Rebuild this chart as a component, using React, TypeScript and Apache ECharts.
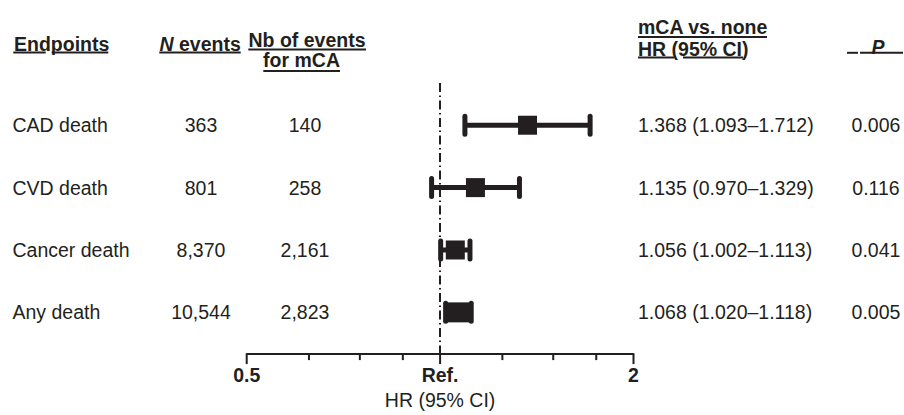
import React, { useEffect, useRef } from 'react';
import * as echarts from 'echarts';

const endpoints = ['CAD death', 'CVD death', 'Cancer death', 'Any death'];
const nEvents = ['363', '801', '8,370', '10,544'];
const mcaEvents = ['140', '258', '2,161', '2,823'];
const hr = [1.368, 1.135, 1.056, 1.068];
const ciLow = [1.093, 0.97, 1.002, 1.02];
const ciHigh = [1.712, 1.329, 1.113, 1.118];
const pValues = ['0.006', '0.116', '0.041', '0.005'];
const majorTicks = [0.5, 1, 2];
const minorTicks = [0.625, 0.75, 0.875, 1.25, 1.5, 1.75];
const tickLabels: [number, string][] = [
  [0.5, '0.5'],
  [1, 'Ref.'],
  [2, '2'],
];

const C = '#231f20';
const FF = '"Liberation Sans", Arial, Helvetica, sans-serif';
const FS = 19.5;
const Y_MIN = 0.323;
const Y_MAX = 4.669;

function txt(text: string, x: number, y: number, align: string, extra: any = {}) {
  return {
    type: 'text',
    x,
    y,
    silent: true,
    style: {
      text,
      fill: C,
      fontSize: FS,
      fontFamily: FF,
      fontWeight: 'bold',
      align,
      textAlign: align,
      verticalAlign: 'middle',
      textVerticalAlign: 'middle',
      ...extra,
    },
  };
}

function uline(x1: number, x2: number, y: number) {
  return {
    type: 'line',
    silent: true,
    shape: { x1, y1: y, x2, y2: y },
    style: { stroke: C, lineWidth: 2 },
  };
}

export default function App() {
  const ref = useRef<HTMLDivElement>(null);

  useEffect(() => {
    if (!ref.current) return;
    const chart = echarts.init(ref.current, null, { renderer: 'svg' });

    const rowText = (params: any, api: any) => {
      const i = params.dataIndex;
      const y = api.coord([1, i + 1])[1];
      const base = {
        fill: C,
        fontSize: FS,
        fontFamily: FF,
        verticalAlign: 'middle',
        textVerticalAlign: 'middle',
      };
      const t = (text: string, x: number, align: string) => ({
        type: 'text',
        x,
        y,
        style: { ...base, text, align, textAlign: align },
      });
      return {
        type: 'group',
        children: [
          t(endpoints[i], 12.5, 'left'),
          t(nEvents[i], 201, 'center'),
          t(mcaEvents[i], 305, 'center'),
          t(
            `${hr[i].toFixed(3)} (${ciLow[i].toFixed(3)}\u2013${ciHigh[i].toFixed(3)})`,
            638,
            'left'
          ),
          t(pValues[i], 876, 'center'),
        ],
      };
    };

    const option: any = {
      animation: false,
      backgroundColor: '#ffffff',
      grid: { left: 246.7, right: 270.5, top: 83, bottom: 56, containLabel: false },
      xAxis: {
        type: 'log',
        logBase: 2,
        min: 0.5,
        max: 2,
        splitNumber: 2,
        axisLine: { show: true, lineStyle: { color: C, width: 2 } },
        axisTick: { show: false },
        splitLine: { show: false },
        minorTick: { show: false },
        axisLabel: {
          show: true,
          showMinLabel: true,
          showMaxLabel: true,
          margin: 11,
          color: C,
          fontSize: FS,
          fontWeight: 'bold',
          fontFamily: FF,
          formatter: (v: number) => {
            for (const [tv, lab] of tickLabels) {
              if (Math.abs(v - tv) < 1e-6) return lab;
            }
            return '';
          },
        },
        name: 'HR (95% CI)',
        nameLocation: 'middle',
        nameGap: 35,
        nameTextStyle: { color: C, fontSize: FS, fontFamily: FF },
      },
      yAxis: {
        type: 'value',
        inverse: true,
        min: Y_MIN,
        max: Y_MAX,
        show: false,
        splitLine: { show: false },
      },
      graphic: [
        txt('Endpoints', 14, 43.8, 'left'),
        uline(13.3, 45.7, 52.5),
        uline(51.7, 108.3, 52.5),
        txt('{i|N} events', 159.5, 43.8, 'left', {
          rich: {
            i: {
              fontStyle: 'italic',
              fontWeight: 'bold',
              fontSize: FS,
              fontFamily: FF,
              fill: C,
              color: C,
            },
          },
        }),
        uline(159.3, 240.7, 52.5),
        txt('Nb of events', 307, 39.6, 'center'),
        uline(248.3, 366, 49.5),
        txt('for mCA', 301.5, 59.6, 'center'),
        uline(263.3, 340, 71),
        txt('mCA vs. none', 638, 27, 'left'),
        uline(638, 767, 37),
        txt('HR (95% CI)', 638, 48.6, 'left'),
        uline(638, 674, 57.5),
        uline(683, 743, 57.5),
        txt('P', 878, 46.8, 'center', { fontStyle: 'italic' }),
        uline(847, 858, 52.8),
        uline(860, 903, 52.8),
      ],
      series: [
        {
          type: 'custom',
          name: 'ticks',
          silent: true,
          data: [...majorTicks, ...minorTicks].map((v) => [v, Y_MAX]),
          encode: { x: 0, y: 1 },
          renderItem: (params: any, api: any) => {
            const v = api.value(0);
            const p = api.coord([v, api.value(1)]);
            const isMajor = majorTicks.some((m) => Math.abs(m - v) < 1e-9);
            const len = isMajor ? 10 : 6;
            return {
              type: 'line',
              shape: { x1: p[0], y1: p[1], x2: p[0], y2: p[1] + len },
              style: { stroke: C, lineWidth: 2 },
            };
          },
        },
        {
          type: 'custom',
          name: 'rows',
          silent: true,
          data: endpoints.map((_, i) => [1, i + 1]),
          encode: { x: 0, y: 1 },
          renderItem: rowText,
        },
        {
          type: 'custom',
          name: 'ci',
          silent: true,
          data: hr.map((_, i) => [ciLow[i], ciHigh[i], i + 1]),
          encode: { x: [0, 1], y: 2 },
          renderItem: (params: any, api: any) => {
            const pLo = api.coord([api.value(0), api.value(2)]);
            const pHi = api.coord([api.value(1), api.value(2)]);
            const capW = 5;
            const capH = 23;
            return {
              type: 'group',
              children: [
                {
                  type: 'line',
                  shape: { x1: pLo[0], y1: pLo[1], x2: pHi[0], y2: pHi[1] },
                  style: { stroke: C, lineWidth: 5 },
                },
                {
                  type: 'rect',
                  shape: { x: pLo[0] - capW / 2, y: pLo[1] - capH / 2, width: capW, height: capH, r: capW / 2 },
                  style: { fill: C },
                },
                {
                  type: 'rect',
                  shape: { x: pHi[0] - capW / 2, y: pHi[1] - capH / 2, width: capW, height: capH, r: capW / 2 },
                  style: { fill: C },
                },
              ],
            };
          },
          z: 3,
        },
        {
          type: 'scatter',
          name: 'HR',
          silent: true,
          symbol: 'rect',
          symbolSize: (_v: any, p: any) => (p.dataIndex === 3 ? [24, 20] : 19),
          itemStyle: { color: C, opacity: 1 },
          data: hr.map((h, i) => [h, i + 1]),
          z: 4,
          markLine: {
            silent: true,
            symbol: ['none', 'none'],
            label: { show: false },
            lineStyle: { color: C, width: 2, type: [9, 3.5, 1.5, 3.5] },
            data: [{ xAxis: 1 }],
          },
        },
      ],
    };

    chart.setOption(option);
    return () => chart.dispose();
  }, []);

  return (
    <div
      ref={ref}
      style={{ position: 'fixed', left: 0, top: 0, width: 904, height: 415, background: '#fff' }}
    />
  );
}
